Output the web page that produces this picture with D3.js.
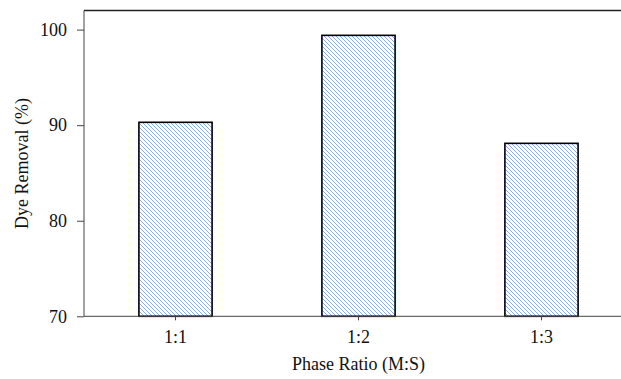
<!DOCTYPE html>
<html>
<head>
<meta charset="utf-8">
<script src="https://cdn.jsdelivr.net/npm/d3@7"></script>
<style>
  html, body { margin: 0; padding: 0; background: #fff; }
  svg { display: block; }
</style>
</head>
<body>
<svg id="chart" width="621" height="379"></svg>
<script>
// data
const categories = ['1:1', '1:2', '1:3'];
const removal = [90.3, 99.4, 88.1];
const yTicks = [70, 80, 90, 100];

const serif = "'Liberation Serif', 'Times New Roman', 'DejaVu Serif', serif";

const svg = d3.select('#chart')
  .attr('font-family', serif);

const plotLeft = 84;
const plotTop = 10.5;
const plotBottom = 316.3;
const plotRight = 633; // frame runs past the picture edge

const x = d3.scaleBand()
  .domain(categories)
  .range([plotLeft, plotRight]);

const y = d3.scaleLinear()
  .domain([70, 102])
  .range([plotBottom, plotTop]);

// hatch fill
const defs = svg.append('defs');
const pat = defs.append('pattern')
  .attr('id', 'hatch')
  .attr('patternUnits', 'userSpaceOnUse')
  .attr('width', 4)
  .attr('height', 4);
pat.append('rect').attr('width', 4).attr('height', 4).attr('fill', '#fff');
pat.append('path')
  .attr('d', 'M-1,-1 L5,5 M-1,3 L1,5 M3,-1 L5,1')
  .attr('stroke', '#7ea5dc')
  .attr('stroke-width', 0.9);

// frame top line
svg.append('line')
  .attr('x1', plotLeft).attr('x2', plotRight)
  .attr('y1', plotTop).attr('y2', plotTop)
  .attr('stroke', '#222')
  .attr('stroke-width', 1.3);

// bars
const barW = x.bandwidth() * 0.4;
svg.append('g')
  .selectAll('rect')
  .data(categories)
  .enter()
  .append('rect')
  .attr('x', (d) => x(d) + (x.bandwidth() - barW) / 2)
  .attr('y', (d, i) => y(removal[i]))
  .attr('width', barW)
  .attr('height', (d, i) => y(70) - y(removal[i]))
  .attr('fill', 'url(#hatch)')
  .attr('stroke', '#000')
  .attr('stroke-width', 1.6);

// y axis
const yAxis = d3.axisLeft(y).tickValues(yTicks).tickSize(7).tickPadding(10);
const gy = svg.append('g')
  .attr('transform', `translate(${plotLeft},0)`)
  .call(yAxis)
  .attr('font-family', serif)
  .attr('font-size', 18);
gy.select('.domain').attr('stroke', '#444').attr('d', `M0,${plotBottom}V${plotTop}`);
gy.selectAll('.tick line').attr('stroke', '#444');
gy.selectAll('text').attr('fill', '#111');

// x axis
const xAxis = d3.axisBottom(x).tickSize(4).tickPadding(10);
const gx = svg.append('g')
  .attr('transform', `translate(0,${plotBottom})`)
  .call(xAxis)
  .attr('font-family', serif)
  .attr('font-size', 18);
gx.select('.domain').attr('stroke', '#444').attr('d', `M${plotLeft},0H${plotRight}`);
gx.selectAll('.tick line').attr('stroke', '#444');
gx.selectAll('text').attr('fill', '#111');

// titles
svg.append('text')
  .attr('x', (plotLeft + plotRight) / 2)
  .attr('y', 370)
  .attr('text-anchor', 'middle')
  .attr('font-size', 18)
  .attr('fill', '#111')
  .text('Phase Ratio (M:S)');

svg.append('text')
  .attr('transform', `translate(28,${(plotTop + plotBottom) / 2}) rotate(-90)`)
  .attr('text-anchor', 'middle')
  .attr('font-size', 18)
  .attr('fill', '#111')
  .text('Dye Removal (%)');
</script>
</body>
</html>
